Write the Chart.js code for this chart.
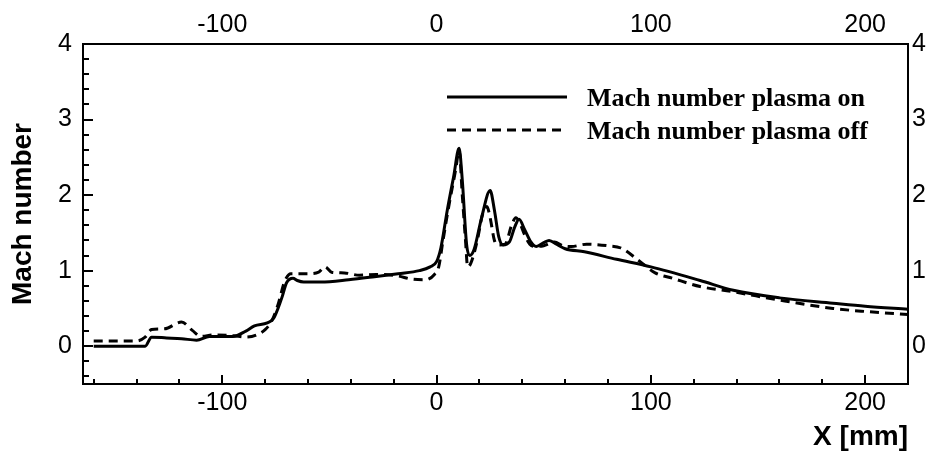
<!DOCTYPE html>
<html>
<head>
<meta charset="utf-8">
<script src="https://cdn.jsdelivr.net/npm/chart.js@4.4.1/dist/chart.umd.min.js"></script>
<style>
  html, body { margin: 0; padding: 0; background: #fff; }
  #wrap { width: 937px; height: 451px; }
</style>
</head>
<body>
<div id="wrap"><canvas id="chart" width="937" height="451"></canvas></div>
<script>
// X position [mm] and Mach number, plasma on
const X_ON = [-160, -136, -133, -126, -119, -112, -106, -95, -89, -85, -79, -76, -74, -72, -70, -67, -65, -62, -54, -41, -29, -18, -8, -3, 0, 2, 5, 8, 10.5, 12, 14, 15.5, 17.5, 21, 25, 27, 29, 31, 34, 36.5, 38.5, 41, 44, 46.5, 50, 52.5, 56, 60, 69, 84, 100, 123, 138.5, 160, 185, 200, 220];
const M_ON = [0, 0, 0.12, 0.11, 0.10, 0.08, 0.13, 0.13, 0.20, 0.27, 0.31, 0.37, 0.50, 0.66, 0.84, 0.90, 0.87, 0.85, 0.85, 0.88, 0.92, 0.96, 1.00, 1.05, 1.12, 1.30, 1.80, 2.25, 2.62, 2.20, 1.35, 1.20, 1.28, 1.70, 2.06, 1.80, 1.45, 1.34, 1.38, 1.58, 1.68, 1.55, 1.38, 1.32, 1.37, 1.40, 1.35, 1.29, 1.25, 1.15, 1.05, 0.87, 0.74, 0.64, 0.57, 0.53, 0.49];

// plasma off
const X_OFF = [-160, -140, -136, -133, -127, -119, -114, -110, -104, -95, -89, -84, -80, -77, -74, -71, -68, -60, -55, -52, -49, -43, -36, -28, -18, -12, -5, -1, 1, 3, 6, 9, 10.5, 12, 13.5, 14.5, 16, 19, 21.5, 23.5, 25, 27, 29, 32, 35, 37, 39, 41, 43.5, 46, 50, 55, 59, 63, 70, 80, 86, 95, 102, 110, 123, 138.5, 160, 185, 200, 220];
const M_OFF = [0.07, 0.07, 0.12, 0.22, 0.23, 0.32, 0.21, 0.13, 0.15, 0.14, 0.12, 0.15, 0.22, 0.33, 0.55, 0.85, 0.96, 0.96, 0.98, 1.05, 0.98, 0.97, 0.94, 0.95, 0.93, 0.89, 0.88, 0.95, 1.05, 1.40, 1.90, 2.35, 2.60, 2.00, 1.40, 1.05, 1.10, 1.40, 1.75, 1.85, 1.70, 1.40, 1.34, 1.35, 1.60, 1.70, 1.62, 1.48, 1.35, 1.32, 1.33, 1.38, 1.33, 1.32, 1.35, 1.33, 1.30, 1.12, 0.97, 0.90, 0.79, 0.72, 0.61, 0.50, 0.46, 0.42];

const SERIES_LABELS = ["Mach number plasma on", "Mach number plasma off"];
const X_TICKS = [-100, 0, 100, 200];
const Y_TICKS = [0, 1, 2, 3, 4];

const pts = (xs, ys) => xs.map((x, i) => ({ x, y: ys[i] }));
const SANS = '"Liberation Sans", Arial, sans-serif';

// ticks on bottom and left, pointing into the plot
const innerTicks = {
  id: "innerTicks",
  afterDraw(chart) {
    const { ctx, chartArea: a, scales } = chart;
    ctx.save();
    ctx.strokeStyle = "#000";
    ctx.lineWidth = 2;
    ctx.beginPath();
    for (let v = -160; v <= 220; v += 20) {
      const px = Math.round(scales.x.getPixelForValue(v));
      const len = v % 100 === 0 ? 9 : 5;
      ctx.moveTo(px, a.bottom);
      ctx.lineTo(px, a.bottom - len);
    }
    for (let i = -2; i <= 19; i++) {
      const py = Math.round(scales.y.getPixelForValue(i * 0.2));
      const len = i % 5 === 0 ? 10 : 6;
      ctx.moveTo(a.left, py);
      ctx.lineTo(a.left + len, py);
    }
    ctx.stroke();
    ctx.restore();
  },
};

// legend drawn inside the plot
const insideLegend = {
  id: "insideLegend",
  afterDraw(chart) {
    const { ctx } = chart;
    ctx.save();
    chart.data.datasets.forEach((ds, i) => {
      const y = 97 + i * 33;
      ctx.strokeStyle = "#000";
      ctx.lineWidth = ds.borderWidth;
      ctx.setLineDash(ds.borderDash || []);
      ctx.beginPath();
      ctx.moveTo(447, y);
      ctx.lineTo(567, y);
      ctx.stroke();
      ctx.setLineDash([]);
      ctx.fillStyle = "#000";
      ctx.font = 'bold 26px "Liberation Serif", "Times New Roman", serif';
      ctx.textBaseline = "alphabetic";
      ctx.fillText(ds.label, 587, y + 8.5);
    });
    ctx.restore();
  },
};

function xAxis(position, withTitle) {
  return {
    type: "linear",
    position,
    min: -165,
    max: 220,
    afterBuildTicks: (s) => { s.ticks = X_TICKS.map((v) => ({ value: v })); },
    afterFit: (s) => { s.height = position === "bottom" ? 67 : 44; },
    grid: { display: false, drawTicks: false },
    border: { display: true, color: "#000", width: 2 },
    ticks: {
      color: "#000",
      font: { family: SANS, size: 25 },
      padding: position === "bottom" ? 4 : 4,
      maxRotation: 0,
      autoSkip: false,
      callback: (v) => String(v),
    },
    title: withTitle
      ? {
          display: true,
          text: "X [mm]",
          align: "end",
          color: "#000",
          font: { family: SANS, size: 28, weight: "bold", lineHeight: 1 },
          padding: { top: 0, bottom: 0 },
        }
      : { display: false },
  };
}

function yAxis(position) {
  return {
    type: "linear",
    position,
    min: -0.5,
    max: 4,
    afterBuildTicks: (s) => { s.ticks = Y_TICKS.map((v) => ({ value: v })); },
    afterFit: (s) => { s.width = position === "left" ? 83 : 29; },
    grid: { display: false, drawTicks: false },
    border: { display: true, color: "#000", width: 2 },
    ticks: {
      color: "#000",
      font: { family: SANS, size: 25 },
      padding: position === "left" ? 11 : 4,
      autoSkip: false,
      callback: (v) => String(v),
    },
    title: position === "left"
      ? {
          display: true,
          text: "Mach number",
          color: "#000",
          font: { family: SANS, size: 28, weight: "bold", lineHeight: 1 },
          padding: { top: 9, bottom: 0 },
        }
      : { display: false },
  };
}

new Chart(document.getElementById("chart"), {
  type: "line",
  data: {
    datasets: [
      {
        label: SERIES_LABELS[0],
        data: pts(X_ON, M_ON),
        borderColor: "#000",
        borderWidth: 3,
        pointRadius: 0,
        cubicInterpolationMode: "monotone",
        xAxisID: "x",
        yAxisID: "y",
      },
      {
        label: SERIES_LABELS[1],
        data: pts(X_OFF, M_OFF),
        borderColor: "#000",
        borderWidth: 3,
        borderDash: [9, 6],
        pointRadius: 0,
        cubicInterpolationMode: "monotone",
        xAxisID: "x",
        yAxisID: "y",
      },
    ],
  },
  options: {
    responsive: false,
    animation: false,
    devicePixelRatio: 1,
    layout: { padding: 0 },
    plugins: { legend: { display: false }, tooltip: { enabled: false } },
    scales: {
      x: xAxis("bottom", true),
      x2: xAxis("top", false),
      y: yAxis("left"),
      y2: yAxis("right"),
    },
  },
  plugins: [innerTicks, insideLegend],
});
</script>
</body>
</html>
